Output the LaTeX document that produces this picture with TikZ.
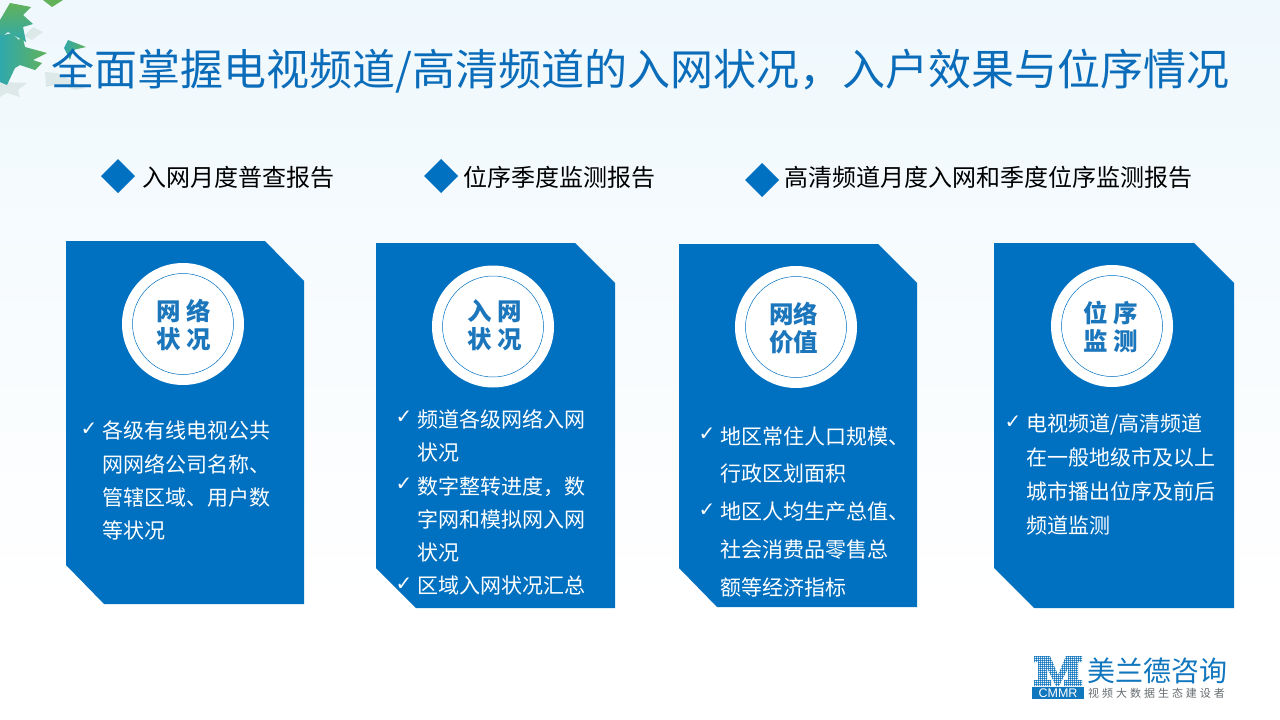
\documentclass[tikz,border=0pt]{standalone}
\usepackage{fontspec}
\setmainfont{Noto Sans CJK SC}
\newfontfamily\cjkspaced[LetterSpace=27]{Noto Sans CJK SC}
\newfontfamily\latinbold{Liberation Sans}
\newfontfamily\checkfont{DejaVu Sans}
\definecolor{cardblue}{HTML}{0070C0}
\definecolor{titleblue}{HTML}{0B6DBA}
\definecolor{circtext}{HTML}{1C76BC}
\definecolor{bgtop}{HTML}{EFF8FD}
\definecolor{logoblue}{HTML}{1076BE}
\definecolor{logogray}{HTML}{666C70}
\definecolor{leafgreen}{HTML}{62B25A}
\definecolor{leafteal}{HTML}{2FA8AC}
\definecolor{leafpale}{HTML}{DDE9E8}
\tikzset{
  card/.style={fill=cardblue,draw=none},
  ring/.style={circle,fill=white,draw=none,minimum size=122pt,inner sep=0pt},
  innerring/.style={circle,draw=cardblue,line width=0.5pt,minimum size=101pt,inner sep=0pt},
  circlabel/.style={text=circtext,font=\fontsize{24.5}{28}\selectfont\bfseries,inner sep=0pt,anchor=center},
  body/.style={text=white,font=\fontsize{21}{21}\selectfont,inner sep=0pt,anchor=west},
  tick/.style={text=white,font=\fontsize{20}{20}\selectfont\checkfont,inner sep=0pt,anchor=center},
  head/.style={text=black,font=\fontsize{24}{24}\selectfont,inner sep=0pt,anchor=west},
  bullet/.style={fill=cardblue,draw=none}
}
\begin{document}
\begin{tikzpicture}[x=1pt,y=-1pt]
\useasboundingbox (0,0) rectangle (1280,720);
\shade[top color=bgtop,bottom color=white] (0,0) rectangle (1280,600);
\fill[white] (0,600) rectangle (1280,720);

% pale leaves
\fill[leafpale] (33,27)--(43,32)--(32,40)--(24,36)--cycle;
\fill[leafpale] (45,72)--(57,73)--(85,88)--(75,90)--(60,84)--(46,87)--cycle;
\fill[leafpale] (0,82)--(27,83)--(18,90)--(20,97)--(7,93)--(0,97)--cycle;
% green leaves
\shade[top color=leafgreen,bottom color=leafteal] (10,3)--(31,7)--(23,15)--(33,24)--(23,27)--(26,42)--(8,32)--(0,38)--(0,20)--cycle;
\shade[left color=leafteal,right color=leafgreen] (0,36)--(12,33)--(19,40)--(22,35)--(25,47)--(47,53)--(33,60)--(42,63)--(35,70)--(20,65)--(15,68)--(7,85)--(0,82)--cycle;
\shade[left color=leafteal,right color=leafgreen] (68,40)--(86,47)--(73,50)--(70,60)--(64,48)--cycle;
\fill[leafgreen] (43,0)--(63,0)--(52,7)--cycle;

% title
\node[text=titleblue,font=\fontsize{43}{43}\selectfont,inner sep=0pt,anchor=west] (title) at (51,71) {全面掌握电视频道/高清频道的入网状况，入户效果与位序情况};

% headers
\fill[bullet] (118,159)--(135,176)--(118,193)--(101,176)--cycle;
\node[head] (h1) at (142,177) {入网月度普查报告};
\fill[bullet] (441,159)--(458,176)--(441,193)--(424,176)--cycle;
\node[head] (h2) at (463,177) {位序季度监测报告};
\fill[bullet] (762,163)--(779,180)--(762,197)--(745,180)--cycle;
\node[head] (h3) at (784,177) {高清频道月度入网和季度位序监测报告};

% cards
\fill[card] (66,241)--(265,241)--(304,281)--(304,604)--(104,604)--(66,565)--cycle;
\fill[card] (376,243)--(575,243)--(615,283)--(615,608)--(416,608)--(376,568)--cycle;
\fill[card] (679,244)--(878,244)--(917,283)--(917,607)--(717,607)--(679,568)--cycle;
\fill[card] (994,243)--(1194,243)--(1234,283)--(1234,608)--(1034,608)--(994,568)--cycle;

% circles
\node[ring] (c1) at (183,324) {};
\node[innerring] (r1) at (183,324) {};
\node[circlabel] (l1a) at (184,311) {网\hspace{6pt}络};
\node[circlabel] (l1b) at (184,339) {状\hspace{6pt}况};
\node[ring] (c2) at (493,326.5) {};
\node[innerring] (r2) at (493,326.5) {};
\node[circlabel] (l2a) at (494.5,311) {入\hspace{6pt}网};
\node[circlabel] (l2b) at (494.5,339) {状\hspace{6pt}况};
\node[ring] (c3) at (796,327) {};
\node[innerring] (r3) at (796,327) {};
\node[circlabel] (l3a) at (793.5,314) {网络};
\node[circlabel] (l3b) at (793.5,342) {价值};
\node[ring] (c4) at (1112,326) {};
\node[innerring] (r4) at (1112,326) {};
\node[circlabel] (l4a) at (1110.5,313) {位\hspace{6pt}序};
\node[circlabel] (l4b) at (1110.5,341) {监\hspace{6pt}测};

% card 1 text
\node[tick] (t1) at (89,429) {✓};
\node[body] (a1) at (102,430.5) {各级有线电视公共};
\node[body] (a2) at (102,464.5) {网网络公司名称、};
\node[body] (a3) at (102,497.5) {管辖区域、用户数};
\node[body] (a4) at (102,530.5) {等状况};
% card 2 text
\node[tick] (t2) at (404,417) {✓};
\node[body] (b1) at (417,419) {频道各级网络入网};
\node[body] (b2) at (417,452.5) {状况};
\node[tick] (t3) at (404,484) {✓};
\node[body] (b3) at (417,486.5) {数字整转进度，数};
\node[body] (b4) at (417,519.5) {字网和模拟网入网};
\node[body] (b5) at (417,552.5) {状况};
\node[tick] (t4) at (404,584) {✓};
\node[body] (b6) at (417,586) {区域入网状况汇总};
% card 3 text
\node[tick] (t5) at (707,434) {✓};
\node[body] (d1) at (720,436) {地区常住人口规模、};
\node[body] (d2) at (720,474) {行政区划面积};
\node[tick] (t6) at (707,510) {✓};
\node[body] (d3) at (720,512) {地区人均生产总值、};
\node[body] (d4) at (720,550) {社会消费品零售总};
\node[body] (d5) at (720,588) {额等经济指标};
% card 4 text
\node[tick] (t7) at (1013,422) {✓};
\node[body] (e1) at (1026,424.5) {电视频道/高清频道};
\node[body] (e2) at (1026,457.5) {在一般地级市及以上};
\node[body] (e3) at (1026,491.5) {城市播出位序及前后};
\node[body] (e4) at (1026,525.5) {频道监测};

% logo
\begin{scope}
\clip (1034,656)--(1050,656)--(1058,675)--(1066,656)--(1082,656)--(1082,662)--(1078,662)--(1078,680)--(1082,680)--(1082,686)--(1064,686)--(1064,680)--(1068,680)--(1068,668)--(1059,686)--(1056,686)--(1047,668)--(1047,680)--(1051,680)--(1051,686)--(1034,686)--(1034,680)--(1038,680)--(1038,662)--(1034,662)--cycle;
\foreach \i in {0,...,24}{\foreach \j in {0,...,15}{
  \fill[logoblue] ({1034.5+2*\i},{656.5+2*\j}) circle (1.1);
}}
\end{scope}
\fill[logoblue] (1032,687) rectangle (1084,699);
\node[text=white,font=\latinbold\fontsize{12.5}{12.5}\selectfont,inner sep=0pt] (cmmr) at (1058,693) {CMMR};
\node[text=logoblue,font=\fontsize{28}{28}\selectfont,inner sep=0pt,anchor=west] (lg1) at (1087,671) {美兰德咨询};
\node[text=logogray,font=\cjkspaced\fontsize{11}{11}\selectfont,inner sep=0pt,anchor=west] (lg2) at (1088,693) {视频大数据生态建设者};
\end{tikzpicture}
\end{document}
